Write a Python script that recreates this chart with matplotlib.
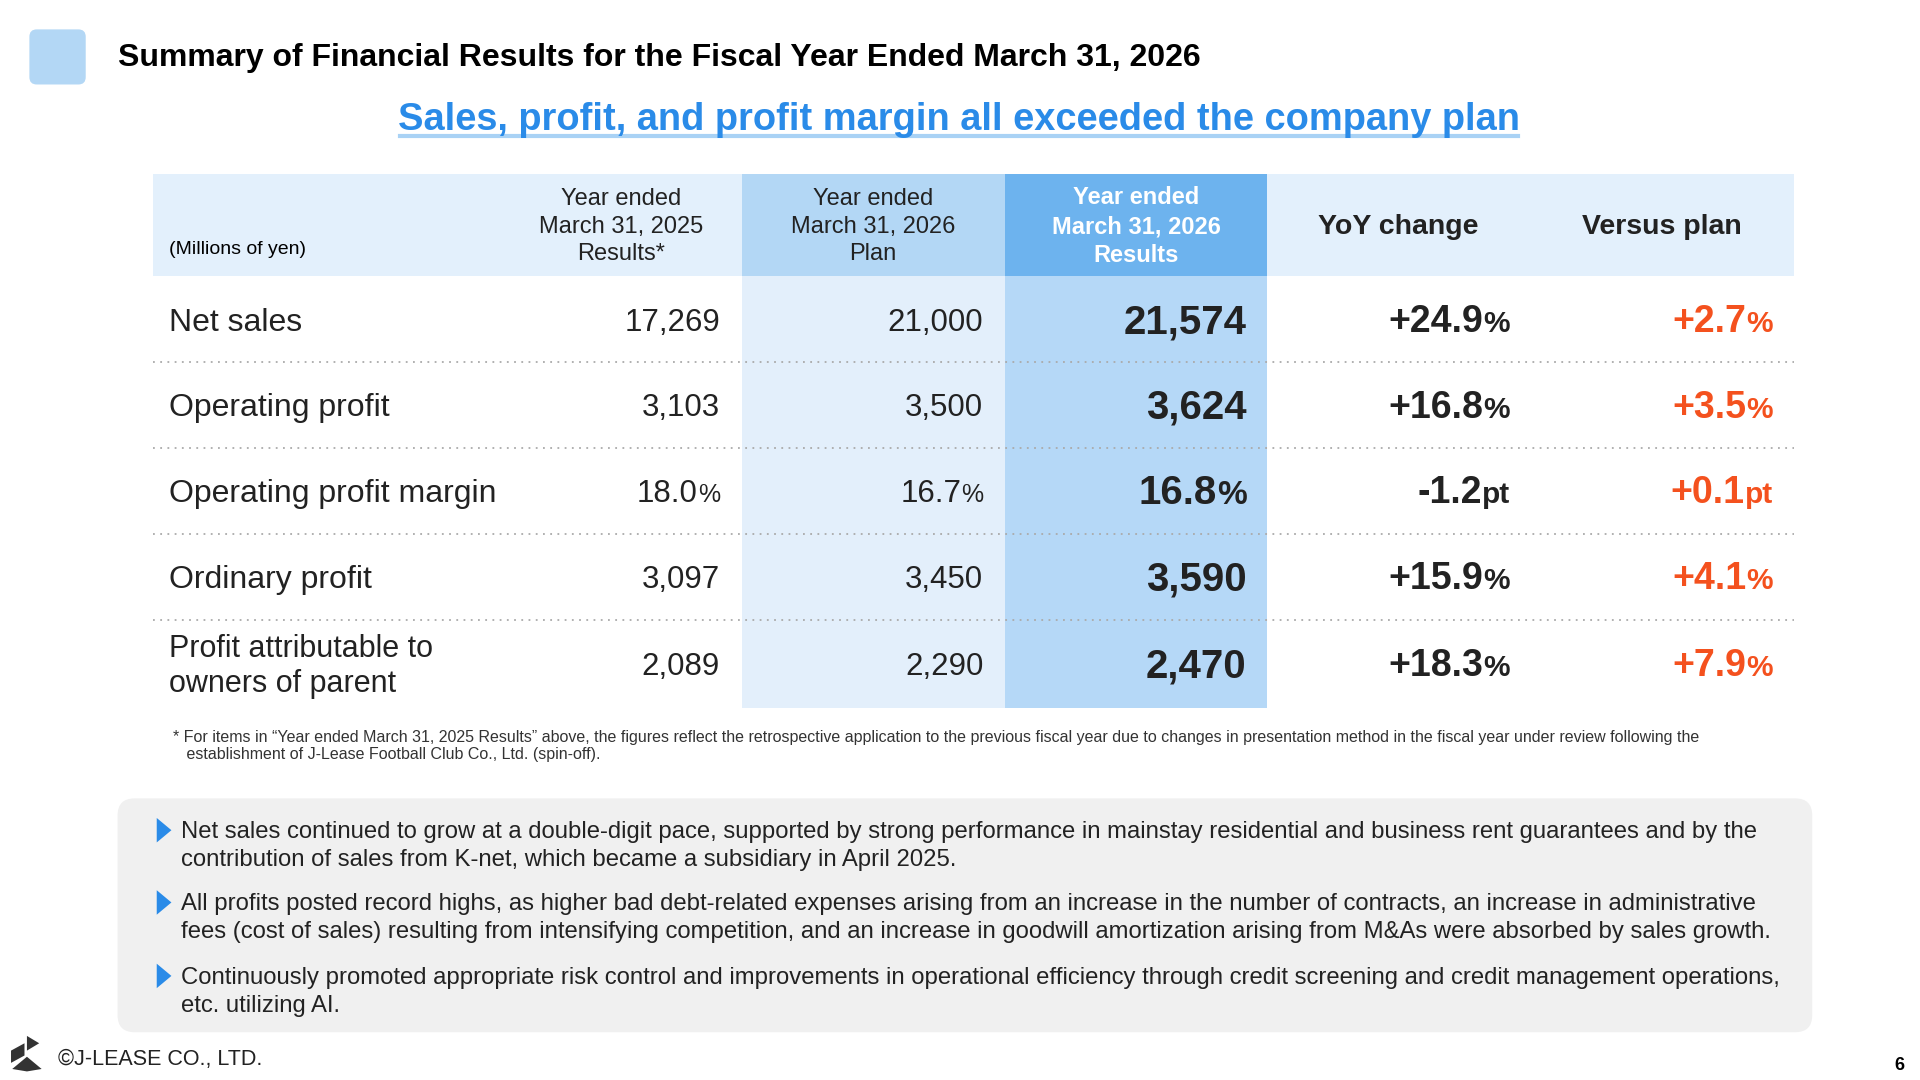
import matplotlib
matplotlib.use("Agg")
import matplotlib.pyplot as plt
from matplotlib.patches import FancyBboxPatch, Rectangle, Polygon

plt.rcParams['font.family'] = ['Liberation Sans', 'DejaVu Sans']

title = "Summary of Financial Results for the Fiscal Year Ended March 31, 2026"
subtitle = "Sales, profit, and profit margin all exceeded the company plan"
unit_label = "(Millions of yen)"
headers = ["Year ended\nMarch 31, 2025\nResults*", "Year ended\nMarch 31, 2026\nPlan",
           "Year ended\nMarch 31, 2026\nResults", "YoY change", "Versus plan"]
rows = ["Net sales", "Operating profit", "Operating profit margin", "Ordinary profit",
        "Profit attributable to\nowners of parent"]
fy2025 = ["17,269", "3,103", "18.0", "3,097", "2,089"]
plan = ["21,000", "3,500", "16.7", "3,450", "2,290"]
results = ["21,574", "3,624", "16.8", "3,590", "2,470"]
yoy = ["+24.9", "+16.8", "-1.2", "+15.9", "+18.3"]
vsplan = ["+2.7", "+3.5", "+0.1", "+4.1", "+7.9"]
units = ["%", "%", "pt", "%", "%"]
value_units = ["", "", "%", "", ""]
footnote = ("* For items in \u201cYear ended March 31, 2025 Results\u201d above, the figures reflect the retrospective application to the previous fiscal year due to changes in presentation method in the fiscal year under review following the\n"
            "   establishment of J-Lease Football Club Co., Ltd. (spin-off).")
bullets = ["Net sales continued to grow at a double-digit pace, supported by strong performance in mainstay residential and business rent guarantees and by the\ncontribution of sales from K-net, which became a subsidiary in April 2025.",
           "All profits posted record highs, as higher bad debt-related expenses arising from an increase in the number of contracts, an increase in administrative\nfees (cost of sales) resulting from intensifying competition, and an increase in goodwill amortization arising from M&As were absorbed by sales growth.",
           "Continuously promoted appropriate risk control and improvements in operational efficiency through credit screening and credit management operations,\netc. utilizing AI."]

fig = plt.figure(figsize=(19.2, 10.8), dpi=100)
ax = fig.add_axes([0, 0, 1, 1])
ax.set_xlim(0, 1568); ax.set_ylim(882, 0); ax.axis('off')
S = 1920 / 1568

ax.add_patch(FancyBboxPatch((24, 24), 46, 45, boxstyle="round,pad=0,rounding_size=6", fc="#B3D7F5", ec="none"))
ax.text(96, 47, title, fontsize=23, weight='bold', va='center')
ax.text(783, 98, subtitle, fontsize=27.4, weight='bold', color="#2A8BE8", ha='center', va='center')
ax.plot([327, 1240], [111, 111], color="#A9D2F5", lw=3)

ax.add_patch(Rectangle((125, 142), 1340, 83, fc="#E3F0FC", ec="none"))
ax.add_patch(Rectangle((606, 142), 215, 83, fc="#B3D7F5", ec="none"))
ax.add_patch(Rectangle((606, 225), 215, 353, fc="#E3EFFB", ec="none"))
ax.add_patch(Rectangle((821, 142), 214, 83, fc="#6DB3EE", ec="none"))
ax.add_patch(Rectangle((821, 225), 214, 353, fc="#B5D8F7", ec="none"))

ax.text(138, 204, unit_label, fontsize=14, va='center')
hx = [507, 713, 928, 1142, 1357]
for i, h in enumerate(headers):
    if i < 3:
        ax.text(hx[i], 185, h, fontsize=17, ha='center', va='center', linespacing=1.35,
                color='white' if i == 2 else '#222222', weight='bold' if i == 2 else 'normal')
    else:
        ax.text(hx[i], 185, h, fontsize=20.5, ha='center', va='center', weight='bold', color='#222222')

for y in [296, 366, 436, 506]:
    ax.plot([125, 1465], [y, y], color="#AAAAAA", lw=1.3, ls=(0, (1, 3)))

fig.canvas.draw()
r = fig.canvas.get_renderer()

def rtext(x, y, main, unit, fs, ufs, color, bold):
    w = 'bold' if bold else 'normal'
    t = ax.text(x, y, unit, fontsize=ufs, ha='right', va='baseline', color=color, weight=w)
    bb = t.get_window_extent(r)
    dx = bb.width / S
    ax.text(x - dx, y, main, fontsize=fs, ha='right', va='baseline', color=color, weight=w)

ycen = [261, 331, 401, 471, 542]
for i in range(5):
    yc = ycen[i]
    ax.text(138, yc + 2.5, rows[i], fontsize=23 if i < 4 else 22, va='center', color='#222222',
            linespacing=1.2)
    rtext(588, yc + 9, fy2025[i], value_units[i], 22.5, 18, '#222222', False)
    rtext(803, yc + 9, plan[i], value_units[i], 22.5, 18, '#222222', False)
    rtext(1018, yc + 11, results[i], value_units[i], 29, 24, '#222222', True)
    rtext(1233, yc + 10, yoy[i], units[i], 27, 21.5, '#222222', True)
    rtext(1448, yc + 10, vsplan[i], units[i], 27, 21.5, '#F4511E', True)

ax.text(141, 609, footnote, fontsize=11.5, va='center', color='#333333', linespacing=1.2)

ax.add_patch(FancyBboxPatch((96, 652), 1384, 191, boxstyle="round,pad=0,rounding_size=14", fc="#F0F0F0", ec="none"))
by = [691, 750, 810]
for y, b in zip(by, bullets):
    ax.add_patch(Polygon([[128, y - 23], [128, y - 3], [140, y - 13]], closed=True, fc="#2A8BE8", ec="none"))
    ax.text(148, y, b, fontsize=17.2, va='center', color='#222222', linespacing=1.35)

ax.add_patch(Polygon([[9, 858], [20, 852], [20, 862], [9, 868]], fc='#333333'))
ax.add_patch(Polygon([[22, 846], [32, 852], [22, 858]], fc='#333333'))
ax.add_patch(Polygon([[10, 873], [22, 863], [34, 873], [22, 875]], fc='#333333'))
ax.text(47, 865, "\u00a9J-LEASE CO., LTD.", fontsize=15.5, va='center', color='#222222')
ax.text(1555, 870, "6", fontsize=13, va='center', ha='right', weight='bold')

fig.savefig("out.png", dpi=100)
